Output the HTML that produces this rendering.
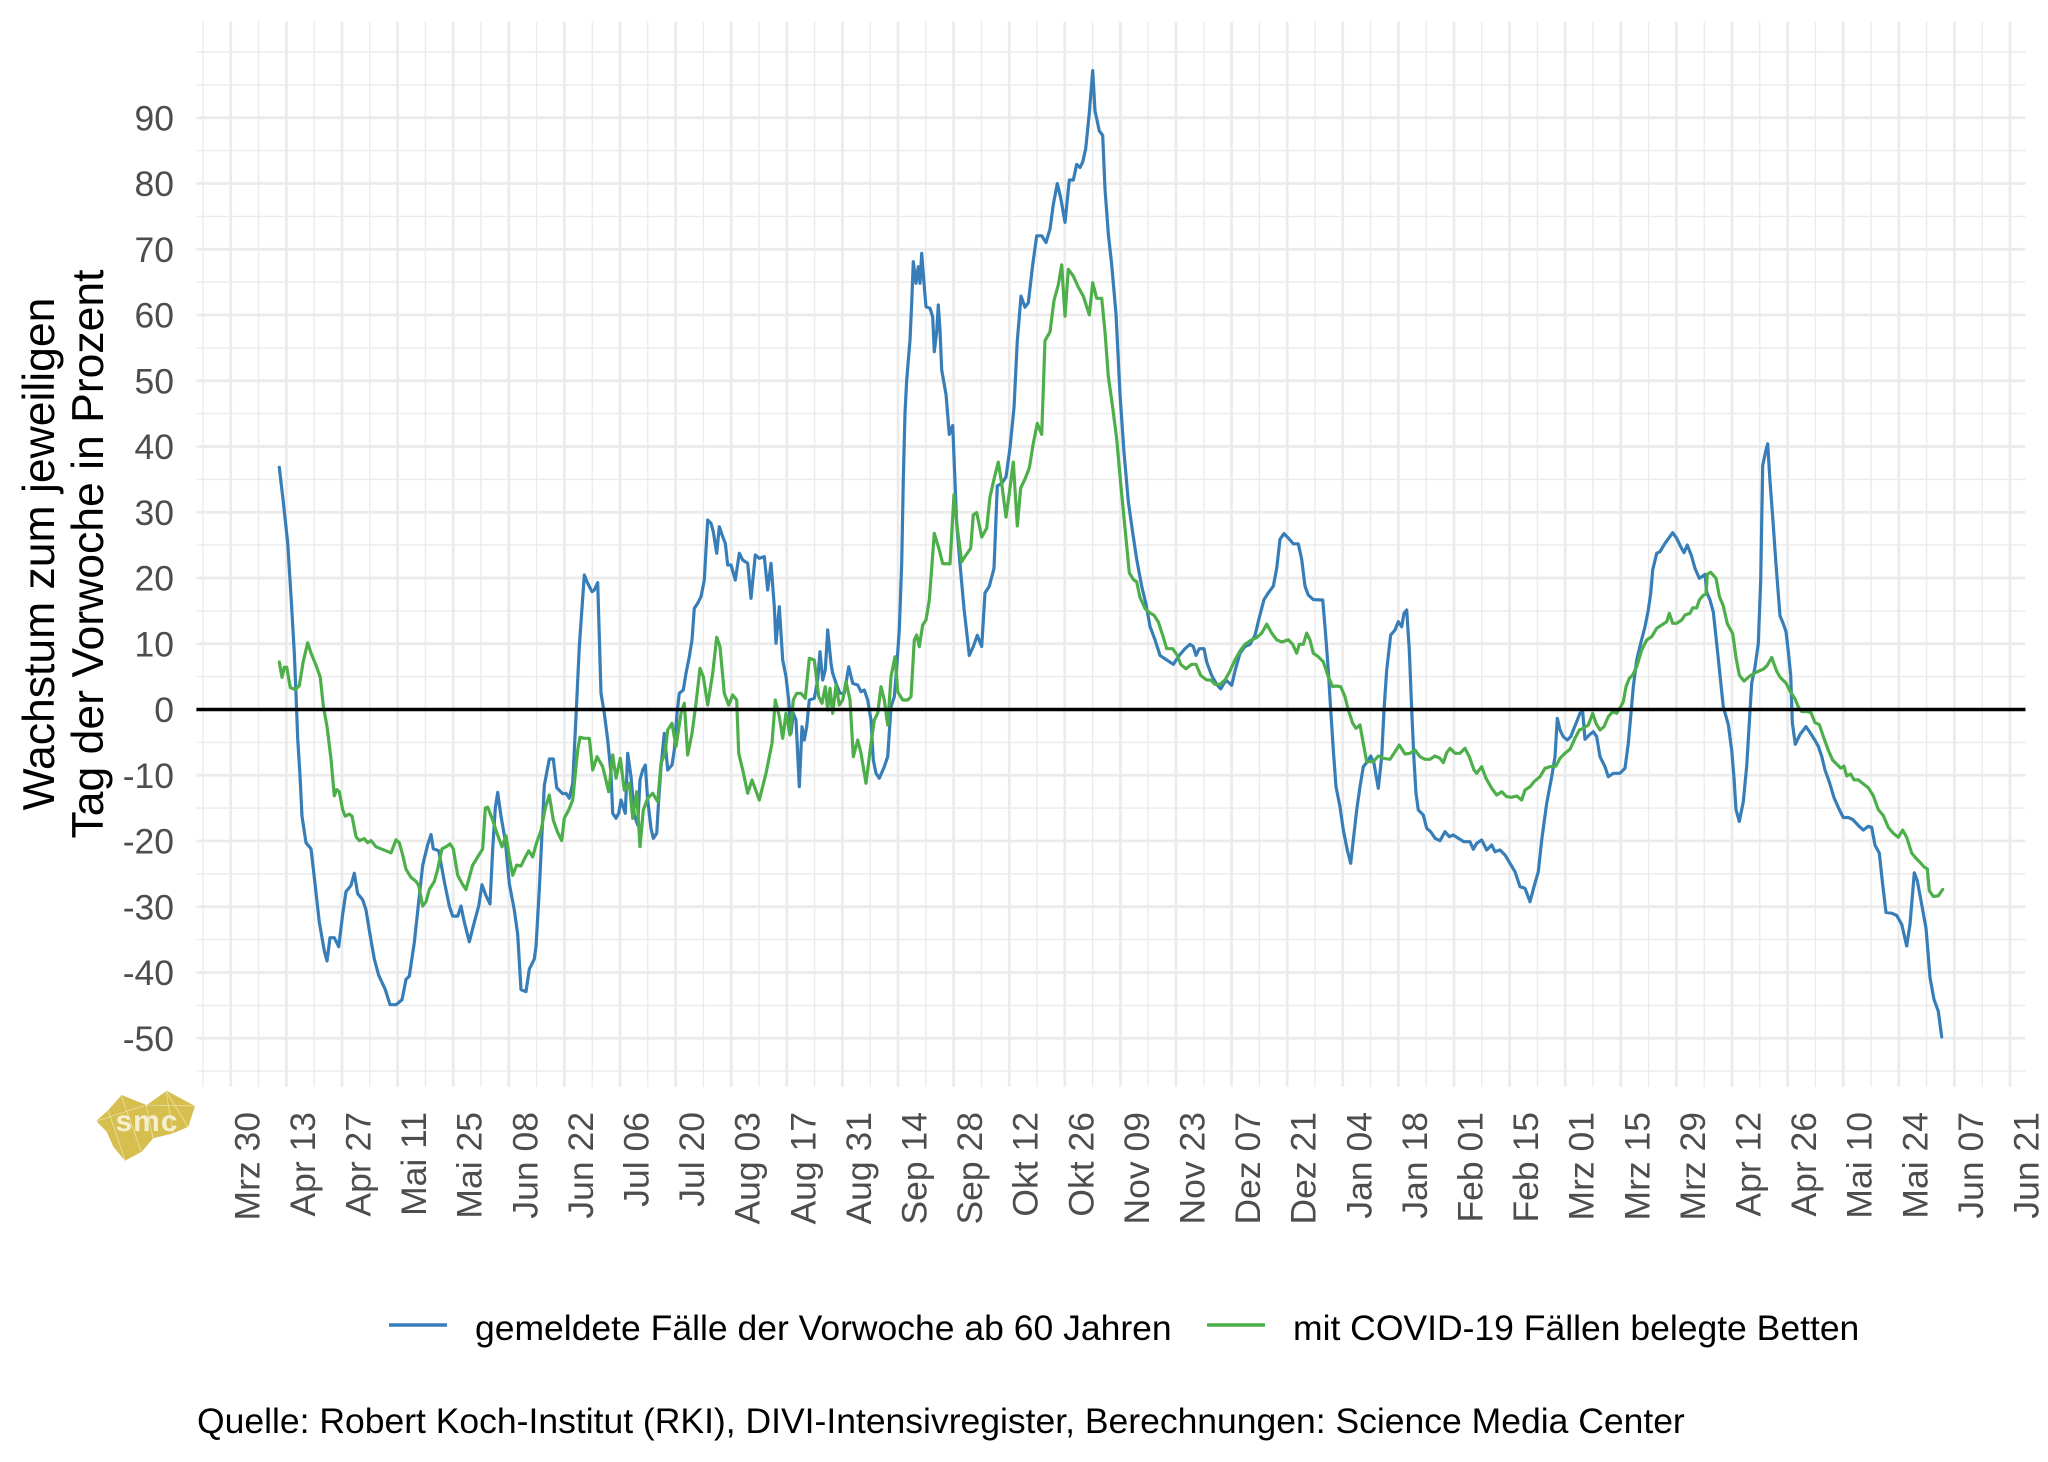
<!DOCTYPE html>
<html>
<head>
<meta charset="utf-8">
<style>
html,body{margin:0;padding:0;background:#fff;}
svg{display:block;}
text{font-family:"Liberation Sans",Arial,sans-serif;}
</style>
</head>
<body>
<svg width="2048" height="1462" viewBox="0 0 2048 1462" xmlns="http://www.w3.org/2000/svg">
<rect x="0" y="0" width="2048" height="1462" fill="#ffffff"/>

<!-- minor grid -->
<path fill="none" stroke="#EBEBEB" stroke-width="1.4" d="
M196.4,1071.1H2025.5 M196.4,1005.4H2025.5 M196.4,939.6H2025.5 M196.4,873.9H2025.5 M196.4,808.1H2025.5 M196.4,742.4H2025.5 M196.4,676.6H2025.5 M196.4,610.9H2025.5 M196.4,545.1H2025.5 M196.4,479.4H2025.5 M196.4,413.6H2025.5 M196.4,347.9H2025.5 M196.4,282.1H2025.5 M196.4,216.4H2025.5 M196.4,150.6H2025.5 M196.4,84.9H2025.5 M196.4,52H2025.5
M203,21.7V1086.7 M258.6,21.7V1086.7 M314.2,21.7V1086.7 M369.8,21.7V1086.7 M425.4,21.7V1086.7 M481,21.7V1086.7 M536.6,21.7V1086.7 M592.2,21.7V1086.7 M647.8,21.7V1086.7 M703.4,21.7V1086.7 M759,21.7V1086.7 M814.6,21.7V1086.7 M870.2,21.7V1086.7 M925.8,21.7V1086.7 M981.4,21.7V1086.7 M1037,21.7V1086.7 M1092.6,21.7V1086.7 M1148.2,21.7V1086.7 M1203.8,21.7V1086.7 M1259.4,21.7V1086.7 M1315,21.7V1086.7 M1370.6,21.7V1086.7 M1426.2,21.7V1086.7 M1481.8,21.7V1086.7 M1537.4,21.7V1086.7 M1593,21.7V1086.7 M1648.6,21.7V1086.7 M1704.2,21.7V1086.7 M1759.8,21.7V1086.7 M1815.4,21.7V1086.7 M1871,21.7V1086.7 M1926.6,21.7V1086.7 M1982.2,21.7V1086.7"/>

<!-- major grid -->
<path fill="none" stroke="#EBEBEB" stroke-width="2.7" d="
M196.4,1038.25H2025.5 M196.4,972.5H2025.5 M196.4,906.75H2025.5 M196.4,841H2025.5 M196.4,775.25H2025.5 M196.4,709.5H2025.5 M196.4,643.75H2025.5 M196.4,578H2025.5 M196.4,512.25H2025.5 M196.4,446.5H2025.5 M196.4,380.75H2025.5 M196.4,315H2025.5 M196.4,249.25H2025.5 M196.4,183.5H2025.5 M196.4,117.75H2025.5
M230.8,21.7V1086.7 M286.4,21.7V1086.7 M342,21.7V1086.7 M397.6,21.7V1086.7 M453.2,21.7V1086.7 M508.8,21.7V1086.7 M564.4,21.7V1086.7 M620,21.7V1086.7 M675.6,21.7V1086.7 M731.2,21.7V1086.7 M786.8,21.7V1086.7 M842.4,21.7V1086.7 M898,21.7V1086.7 M953.6,21.7V1086.7 M1009.2,21.7V1086.7 M1064.8,21.7V1086.7 M1120.4,21.7V1086.7 M1176,21.7V1086.7 M1231.6,21.7V1086.7 M1287.2,21.7V1086.7 M1342.8,21.7V1086.7 M1398.4,21.7V1086.7 M1454,21.7V1086.7 M1509.6,21.7V1086.7 M1565.2,21.7V1086.7 M1620.8,21.7V1086.7 M1676.4,21.7V1086.7 M1732,21.7V1086.7 M1787.6,21.7V1086.7 M1843.2,21.7V1086.7 M1898.8,21.7V1086.7 M1954.4,21.7V1086.7 M2010,21.7V1086.7"/>

<!-- y labels -->
<g font-size="35.5" fill="#4D4D4D" text-anchor="end">
<text x="174" y="1050.95">-50</text>
<text x="174" y="985.2">-40</text>
<text x="174" y="919.45">-30</text>
<text x="174" y="853.7">-20</text>
<text x="174" y="787.95">-10</text>
<text x="174" y="722.2">0</text>
<text x="174" y="656.45">10</text>
<text x="174" y="590.7">20</text>
<text x="174" y="524.95">30</text>
<text x="174" y="459.2">40</text>
<text x="174" y="393.45">50</text>
<text x="174" y="327.7">60</text>
<text x="174" y="261.95">70</text>
<text x="174" y="196.2">80</text>
<text x="174" y="130.45">90</text>
</g>

<!-- x labels -->
<g font-size="35.5" fill="#4D4D4D" text-anchor="end">
<text transform="translate(259.3,1112) rotate(-90)">Mrz 30</text>
<text transform="translate(314.9,1112) rotate(-90)">Apr 13</text>
<text transform="translate(370.5,1112) rotate(-90)">Apr 27</text>
<text transform="translate(426.1,1112) rotate(-90)">Mai 11</text>
<text transform="translate(481.7,1112) rotate(-90)">Mai 25</text>
<text transform="translate(537.3,1112) rotate(-90)">Jun 08</text>
<text transform="translate(592.9,1112) rotate(-90)">Jun 22</text>
<text transform="translate(648.5,1112) rotate(-90)">Jul 06</text>
<text transform="translate(704.1,1112) rotate(-90)">Jul 20</text>
<text transform="translate(759.7,1112) rotate(-90)">Aug 03</text>
<text transform="translate(815.3,1112) rotate(-90)">Aug 17</text>
<text transform="translate(870.9,1112) rotate(-90)">Aug 31</text>
<text transform="translate(926.5,1112) rotate(-90)">Sep 14</text>
<text transform="translate(982.1,1112) rotate(-90)">Sep 28</text>
<text transform="translate(1037.7,1112) rotate(-90)">Okt 12</text>
<text transform="translate(1093.3,1112) rotate(-90)">Okt 26</text>
<text transform="translate(1148.9,1112) rotate(-90)">Nov 09</text>
<text transform="translate(1204.5,1112) rotate(-90)">Nov 23</text>
<text transform="translate(1260.1,1112) rotate(-90)">Dez 07</text>
<text transform="translate(1315.7,1112) rotate(-90)">Dez 21</text>
<text transform="translate(1371.3,1112) rotate(-90)">Jan 04</text>
<text transform="translate(1426.9,1112) rotate(-90)">Jan 18</text>
<text transform="translate(1482.5,1112) rotate(-90)">Feb 01</text>
<text transform="translate(1538.1,1112) rotate(-90)">Feb 15</text>
<text transform="translate(1593.7,1112) rotate(-90)">Mrz 01</text>
<text transform="translate(1649.3,1112) rotate(-90)">Mrz 15</text>
<text transform="translate(1704.9,1112) rotate(-90)">Mrz 29</text>
<text transform="translate(1760.5,1112) rotate(-90)">Apr 12</text>
<text transform="translate(1816.1,1112) rotate(-90)">Apr 26</text>
<text transform="translate(1871.7,1112) rotate(-90)">Mai 10</text>
<text transform="translate(1927.3,1112) rotate(-90)">Mai 24</text>
<text transform="translate(1982.9,1112) rotate(-90)">Jun 07</text>
<text transform="translate(2038.5,1112) rotate(-90)">Jun 21</text>
</g>

<!-- series -->
<polyline fill="none" stroke="#377EB8" stroke-width="3.2" stroke-linejoin="round" stroke-linecap="round" points="279.3,467.3 283.3,502 287.7,542.8 291,595.8 294.3,653 296,693.8 297.7,738.6 300,775.4 302,816.2 306,842.7 311,848.8 314.3,877.4 319.3,922.2 324.3,950.8 327,961 330,937.7 334.3,937.7 338.7,946.7 342.7,914 346,891.6 351,885.5 354.3,873.3 357.7,893.7 362.7,899.8 366,910 370,934.5 374.3,959 378.7,975.3 385.3,989.6 390,1004.7 396,1004.7 402,999.8 406,979.4 409.3,976.1 414.3,942.6 418.7,901.8 422.7,865.1 427.7,844.7 431,834.5 433.3,848.8 438.7,850.8 444.3,881.4 449.3,906 452.7,916.1 457.7,916.1 461,906 464.3,922.2 469.3,941.8 474.3,922.2 478.7,906 482,884.7 486,895.7 490,903.9 492.7,848.8 495.3,808 497.7,792.5 501,816.2 505.3,840.6 509.3,883.5 514.3,910 517.7,934.5 521,989.6 526,991.6 529.3,969.2 534.3,959 536,946.7 539.3,889.6 544.3,785.6 549.3,759 553.3,759 556.7,787.6 562.7,793.7 566,793.3 569.3,798.3 572.7,783.3 576,716.7 579.3,646.7 584.3,575 587.7,583.3 592,591.7 594.3,590 597.7,582.7 599.3,636.7 601,693.3 604.3,713.3 607.7,740 611,773.3 612.7,813.3 616,818.3 618.7,813.3 621,800 625.3,813.3 627.7,753.3 631,776.7 634.3,815 637.7,825 640,780 642.7,770 645.3,765 647.7,800 651,828.3 653.3,838.3 656.7,833.3 658.7,800 661,766.7 664.3,733.3 667.7,770 672,765 674.3,750 677,713.3 679.3,693.3 683.3,690 686,673.3 689.3,656.7 692,640 694.3,608.3 697.7,603.3 701,596.7 704.3,580 707.7,520 711,523.3 713.3,531.7 716.7,553.3 719.3,526.7 722.7,536.7 725.3,543.3 727.7,565 731,565 735.3,580 739.3,553.3 742.7,560 747.7,563.3 751,598.3 755.3,555 759.3,558.3 764.3,556.7 767.7,590 771,563.3 774.3,606.7 776,643.3 779.3,606.7 782.7,660 786,676.7 788.7,700 791,733.3 793.3,713.3 796,720 799.3,786.7 802,726.7 804.3,740 806.7,726.7 809.3,700 814.3,698.3 817.7,680 820,651.7 822.7,680 825.3,670 827.7,630 831,663.3 832.7,673.3 836,683.3 840,693.3 844.3,693.3 848.7,666.7 852.7,683.3 857.7,685 861,691.7 864.3,690 867.7,700 871,720 873.3,760 876,773.3 879.3,778.3 884.3,766.7 887.7,756.7 891,706.7 894.3,696.7 896.7,666.7 899.3,630 901.7,563.3 903.3,480 905,413.3 906.7,380 910,340 911.7,303.3 913.3,261.7 916,283.3 918.3,266.7 920,283.3 921.7,253.3 924,283.3 926,306.7 930,308.3 932.7,316.7 934.3,351.7 936.7,331.7 938.3,305 940,330 941.7,370 946,394.3 949.3,434.4 952.7,425.5 954,456.8 956.7,523.7 960,563.9 964,608.5 969.3,655.4 973.3,646.5 977.3,635.3 981.7,646.5 985,592.9 989.3,586.2 994,568.4 997.3,485.8 1001.7,483.5 1006,476.9 1010,447.8 1014,407.7 1017.3,340.7 1021,296.1 1025,307.2 1028.3,302.8 1032.7,264.8 1036.7,235.8 1041.7,235.8 1046,242.5 1050,229.1 1053.3,204.5 1057.3,183.6 1060.7,197.9 1065,222.4 1069.3,180 1073.3,180 1076.7,164.4 1080,167.5 1082.7,162.1 1085.7,148.7 1089.3,113 1092.7,70.6 1095,110.8 1099.3,130.9 1102.7,135.4 1105,188.9 1108.3,233.6 1111.7,264.8 1116,313.9 1120,394.3 1124,452.3 1128.3,501.4 1132.7,532.7 1136.7,559.4 1141.7,586.2 1146,604.1 1150,626.4 1155,639.8 1160,655.4 1166.7,659.9 1173.3,664.3 1179.3,655.4 1185,648.7 1190,644.3 1193.3,646.5 1196,655.4 1199.3,648.7 1204,648.7 1206.7,662.1 1211.7,675.5 1216.7,684.4 1220.7,688.9 1226,680 1231.7,685.3 1235,671 1240,653.2 1245,646.5 1250,644.3 1255,635.3 1259.3,617.5 1264,599.6 1268.3,592.9 1273.3,586.2 1276.7,568.4 1280,539.3 1284,533.6 1288.3,538 1293.3,543.8 1298.3,543.8 1301.7,559.4 1305,586.2 1308.3,595.1 1313.3,599.6 1322.7,600 1325,626.7 1328.3,670 1330.7,710 1333.3,750 1336,786.7 1340,806.7 1343.3,830 1347.3,850 1350.7,863.3 1353.3,840 1356.7,810 1360,786.7 1363.3,766.7 1367.3,761.7 1370.7,756 1374,763.3 1378.3,788.3 1381.7,756.7 1384,710 1386.7,670 1390.7,635 1395,630 1398.3,621.7 1401.7,626.7 1404,613.3 1406.7,610 1409.3,650 1411.7,710 1414,760 1416,793.3 1418.3,810 1423.3,815 1426.7,828.3 1430.7,831.7 1435,838.3 1440,840.7 1445,831.7 1449.3,836.7 1453.3,835 1458.3,838.3 1464,841.7 1470,841.7 1473.3,849.3 1476.7,843.3 1481.7,840 1486.7,850 1491.7,845 1495,851.7 1500,850 1505,855 1510,863.3 1515,871.7 1520,886.7 1525,888.3 1530,901.7 1534,886.7 1538.3,871.7 1541.7,840 1546.7,803.3 1551.7,776.7 1555,756.7 1557.3,718.3 1560,730 1563.3,736.7 1567.3,740 1570.7,736.7 1574,728.3 1576.7,721.7 1580,713.3 1582.7,711.7 1585,739.3 1589.3,735 1593.3,731.7 1596.7,736.7 1600,756.7 1605,766.7 1608.3,776.7 1613.3,773.3 1620,773.3 1625,768.3 1628.3,743.3 1630.7,716.7 1633.3,686.7 1636.7,660 1640.7,643.3 1645,626.7 1648.3,610 1650.7,593.3 1652.7,570 1656.7,553.3 1660,551.7 1665,543.3 1672.7,532.7 1676.7,538.3 1680.7,546.7 1684,552.7 1687.3,545 1691.7,556.5 1695,568.4 1699.3,578.3 1702.7,576.3 1705,574.3 1706.7,592.1 1710,600 1713.3,611.9 1716.7,643.5 1720,675.1 1723.3,706.8 1728.3,724.6 1731.7,750.3 1734,777.9 1736,809.6 1739.3,821.4 1743.3,801.7 1746.7,766.1 1749.3,722.6 1751.7,683.1 1755,667.2 1758.3,643.5 1760.7,580.3 1762.7,465.6 1766,449.8 1767.7,443.8 1770,481.4 1772.7,517 1776,564.4 1780,615.8 1783.3,623.7 1786,631.7 1788.3,651.4 1790.7,675.1 1792.3,722.6 1795.3,744.3 1800,734.5 1806,726.6 1810,732.5 1815,740.4 1818.3,746.3 1821.7,756.2 1825,770 1829.3,781.9 1834,797.7 1839.3,809.6 1843.3,817.5 1848.3,817.5 1852.7,819.5 1858.3,825.4 1863.3,830.1 1868.3,826.2 1871.7,827.4 1875,845.2 1879.3,853.1 1882.7,884.7 1886,912.4 1891.7,913.2 1896.7,915.5 1901.7,924.3 1906.7,946 1910,924.3 1914.3,872.8 1917.3,880.8 1921.7,904.5 1926,928.2 1928.3,955.9 1930,977.6 1934,999.4 1938.3,1011.2 1941.7,1036.9"/>

<polyline fill="none" stroke="#4DAF4A" stroke-width="3.2" stroke-linejoin="round" stroke-linecap="round" points="279.3,662 282,677.4 284.3,667.2 286.7,667.2 290.3,687.6 295.3,689.7 299.3,685.6 303.3,661.1 307.7,642.8 311,653 316,665.2 320.3,677.4 323.3,706 327,726.4 331,759 334.3,795.8 336.7,789.6 339.3,791.7 342.7,810 345.3,816.2 349.3,814.1 352,816.2 356,836.6 359.3,840.6 364.3,838.6 367.7,842.7 371,840.6 376,846.8 381,848.8 386,850.8 391,852.9 396,839.8 399.3,842.7 402.7,855 406,869.2 411,877.4 416,881.4 418.7,885.5 422.7,906 426,901.8 429.3,889.6 434.3,881.4 437.7,869.2 442,848.8 446,846.8 450,843.9 453.3,848.8 457.7,875.3 462,883.5 466,889.6 469.3,877.4 472.7,865.1 477.7,857 482.7,848.8 485.3,808 487.7,807.2 492.7,820.2 496.7,832.5 502,846.8 506,835.7 509.3,857 512.7,875.3 516.7,865.1 521,866 524.3,859 528.7,850.8 532.7,857 536,844.7 541,830.4 545.3,808 549.3,795 553.3,820.2 557.7,832.5 561.7,840.6 564.3,818.2 568.7,810 572.7,800 577.7,750 580,737.3 584.3,738.3 589.3,738.3 592.7,770 597,756.7 602.7,766.7 608.7,791.7 612.7,755 616,778.3 620.3,758.3 624.3,790 629.3,783.3 632.7,818.3 636.7,791.7 640,846.7 643.3,810 647.7,798.3 652.7,793.3 657.7,801.7 661,763.3 665,753.3 667.7,730 672,723.3 676,746.7 681,713.3 684.3,703.3 687.7,755 692,733.3 696,703.3 700,668.3 703.3,676.7 707.7,705 712.7,673.3 716.7,637.3 720,646.7 724.3,693.3 728.7,705 732.7,695 736.7,700 738.7,753.3 742.7,770 747.7,793.3 752,780 759.3,800 766,773.3 772,743.3 775.3,700 779.3,716.7 782.7,738.3 786,713.3 790,735 793.3,700 796.7,693.3 801,693.3 805.3,698.3 809.3,658.3 814.3,660 818.7,696.7 822,703.3 825.3,686.7 827.7,710 830,688.3 832.7,713.3 836,685 839.3,705 842.7,700 846,681.7 850,700 853.3,756.7 857.7,740 861,753.3 866,783.3 871,743.3 874.3,720 877.7,713.3 881,686.7 884.3,700 887.7,725 891,676.7 895,656.7 897.7,691.7 902.7,700 907.7,700 911,696.7 914.3,640 916.7,635 919.3,646.7 922.7,625 926,620 929.3,600 934.3,533.3 939.3,550 942.7,563.6 950,563.9 954,494.7 957.3,528.2 961.7,561.7 966,555 970.7,548.3 973.3,514.8 976.7,512.6 981.7,537.1 986.7,528.2 990,497 994,479.1 998.3,462.1 1001.7,483.5 1006,517 1010,488 1013.3,462.1 1017.3,526 1020.7,488 1025,479.1 1029.3,467.9 1033.3,443.4 1037.3,423.3 1041.7,434.4 1045,340.7 1050,331.8 1054,300.5 1058.3,284.9 1061.7,264.8 1065,316.1 1068.3,269.3 1073.3,276 1078.3,287.1 1083.3,296.1 1089.3,314.8 1092.7,282.7 1096.7,298.3 1101.7,298.3 1105,331.8 1108.3,376.4 1112.7,407.7 1116.7,438.9 1120.7,483.5 1125,528.2 1129.3,572.8 1133.3,579.5 1136.7,581.8 1140,597.4 1145,608.5 1150,613 1154,615.2 1158.3,621.9 1162.7,635.3 1166.7,648.7 1172.7,648.7 1177.3,655.4 1180.7,664.3 1186,668.8 1191.7,664.3 1196,664.3 1200.7,675.5 1206.7,680 1210.7,680 1215,684.4 1220,684.4 1225,680 1230,671 1235,659.9 1240,651 1245,644.3 1251.7,639.8 1256.7,637.6 1261.7,633.1 1266.7,624.2 1271.7,633.1 1276.7,639.8 1281.7,642 1288.3,639.8 1292.7,644.3 1296.7,653.2 1299.3,644.3 1303.3,644.3 1306.7,633.1 1310,640 1313.3,653.3 1318.3,656.7 1323.3,661.7 1328.3,676.7 1332.7,686.7 1336,686 1340.7,686.7 1345,696.7 1348.3,710 1352.7,723.3 1356,728.3 1360,725 1363.3,743.3 1366.7,761.7 1373.3,761.7 1378.3,756 1383.3,758.3 1390,759.3 1395,751.7 1399.3,745 1405,754 1410,753.3 1415,750 1420,756.7 1425,759.3 1430,759.3 1435,756 1440,758.3 1443.3,762.7 1446.7,752.7 1450,748.3 1455,753.3 1460,753.3 1465,748.3 1469.3,756.7 1474,770 1476.7,773.3 1481.7,766.7 1486,778.3 1491.7,788.3 1496.7,795 1501.7,791.7 1506.7,796.7 1511.7,797.3 1516.7,796 1521.7,800 1525,790 1530,786.7 1534,781.7 1540,776.7 1545,768.3 1550,766.7 1556,766 1560,758.3 1565,753.3 1570,749.3 1575,738.3 1579.3,730 1583.3,728.3 1588.3,725 1592.7,713.3 1596,723.3 1600,730 1604,726.7 1608.3,716.7 1612.7,711.7 1616.7,713.3 1620.7,706.7 1623.3,701.7 1626,686.7 1629.3,678.3 1632.7,675 1636.7,666.7 1641.7,650 1646.7,640 1651.7,636.7 1656.7,628.3 1661.7,625 1666.7,621.7 1669.3,613.3 1672.7,623.3 1676.7,623.3 1681.7,620 1685,615 1690,613.3 1692.7,607.9 1696.7,607.9 1699.3,600 1703.3,595.3 1706,594.1 1707.3,574.3 1710.7,572.3 1716,578.3 1719.3,596.1 1723.3,606 1727.3,623.7 1732.7,633.6 1736,657.4 1739.3,675.1 1744,681.1 1750,675.9 1756.7,672 1763.3,669.2 1767.3,665.3 1771.7,657.4 1776.7,671.2 1780,677.1 1786,683.1 1790,691 1795,698.9 1798.3,706.8 1801.7,711.5 1806.7,711.5 1811,712.7 1815,722.6 1819.3,724.6 1823.3,736.4 1828.3,750.3 1832.7,760.2 1836.7,764.1 1840.7,768.1 1844,766.1 1846.7,776 1850.7,774 1854,779.9 1858.3,779.9 1863.3,783.9 1868.3,787.8 1873.3,795.7 1878.3,809.6 1883.3,815.5 1888.3,827.4 1893.3,833.3 1898.3,837.3 1902.7,830.1 1906.7,837.3 1911.7,853.1 1916.7,859 1920.7,863 1924,866.9 1927.3,868.9 1929.3,890.6 1933.3,896.5 1938.3,895.8 1942.7,889.4"/>

<!-- zero line -->
<line x1="196.4" y1="709.5" x2="2025.5" y2="709.5" stroke="#000000" stroke-width="3.4"/>

<!-- axis title -->
<text transform="translate(54,554) rotate(-90)" text-anchor="middle" font-size="44.5" fill="#000">Wachstum zum jeweiligen</text>
<text transform="translate(103,554) rotate(-90)" text-anchor="middle" font-size="44.5" fill="#000">Tag der Vorwoche in Prozent</text>

<!-- legend -->
<line x1="389" y1="1325" x2="447" y2="1325" stroke="#377EB8" stroke-width="3.4"/>
<text x="475" y="1340" font-size="35.5" fill="#000">gemeldete Fälle der Vorwoche ab 60 Jahren</text>
<line x1="1207" y1="1325" x2="1265" y2="1325" stroke="#4DAF4A" stroke-width="3.4"/>
<text x="1293" y="1340" font-size="35.5" fill="#000">mit COVID-19 Fällen belegte Betten</text>

<!-- caption -->
<text x="197" y="1433" font-size="35.5" fill="#000">Quelle: Robert Koch-Institut (RKI), DIVI-Intensivregister, Berechnungen: Science Media Center</text>

<!-- logo -->
<polygon points="96.7,1120.7 108.3,1110 121.7,1095 138.3,1101.7 146.7,1105 166.7,1090.7 195,1106 188.3,1126.7 173.3,1133.3 153.3,1138.3 141.7,1151.7 125,1160.7 113.3,1146.7 106.7,1131.7 98.3,1123.3" fill="#D6BE4F"/>
<g stroke="#F3E9B8" stroke-width="0.8" fill="none" opacity="0.8">
<path d="M108,1110 L125,1160 M121,1095 L141,1151 M146,1105 L153,1138 M166,1091 L173,1133 M166,1091 L188,1127 M97,1121 L146,1105 L195,1106"/>
</g>
<text x="147" y="1131" text-anchor="middle" font-size="30" font-weight="bold" fill="#F6EFCF" letter-spacing="1">smc</text>
</svg>
</body>
</html>
